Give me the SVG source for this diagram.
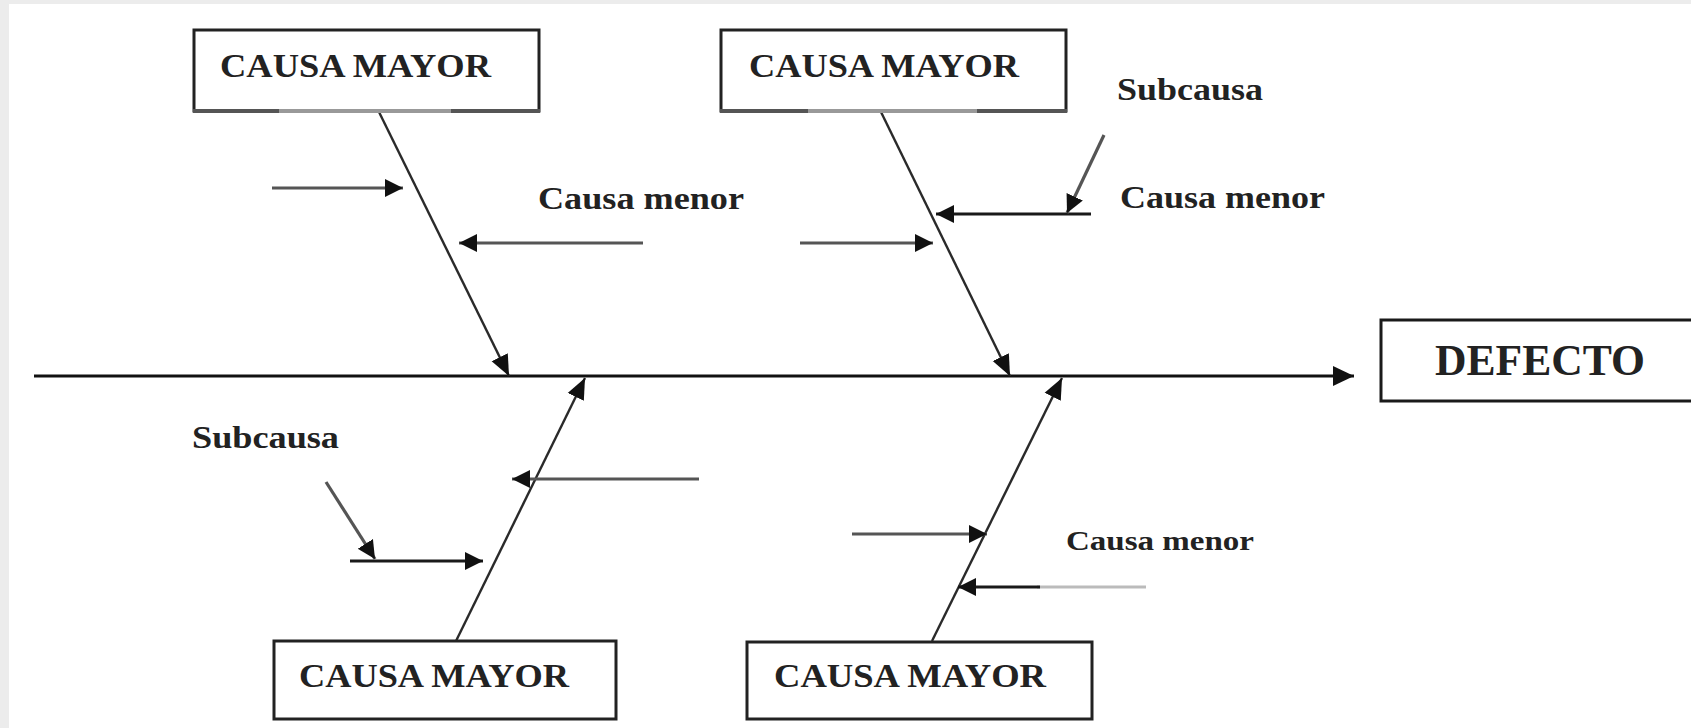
<svg xmlns="http://www.w3.org/2000/svg" width="1691" height="728" viewBox="0 0 1691 728">
<defs>
<style>
.box{fill:#fff;stroke:#222;stroke-width:3}
.lbl{font-family:"Liberation Serif","Times New Roman",serif;font-weight:bold;fill:#222}
.bone{stroke:#2a2a2a;stroke-width:2.4;fill:none}
.sub{stroke:#555;stroke-width:3.2;fill:none}
.subd{stroke:#1a1a1a;stroke-width:3.2;fill:none}
</style>
<marker id="ah" markerUnits="userSpaceOnUse" markerWidth="22" markerHeight="22" refX="18" refY="10" orient="auto"><path d="M0,1 L18,10 L0,19 z" fill="#111"/></marker>
<marker id="ahb" markerUnits="userSpaceOnUse" markerWidth="24" markerHeight="22" refX="21" refY="10" orient="auto"><path d="M0,1 L21,10 L0,19 z" fill="#111"/></marker>
<marker id="ahs" markerUnits="userSpaceOnUse" markerWidth="24" markerHeight="22" refX="21" refY="10" orient="auto"><path d="M0,0 L21,10 L0,20 z" fill="#111"/></marker>
</defs>
<rect x="0" y="0" width="1691" height="728" fill="#ececec"/>
<rect x="9" y="4" width="1682" height="724" fill="#fff"/>

<g id="connectors">
<line x1="34" y1="376" x2="1354" y2="376" stroke="#111" stroke-width="3" marker-end="url(#ahs)"/>
<line class="bone" x1="379" y1="112" x2="509" y2="376" marker-end="url(#ahb)"/>
<line class="bone" x1="881" y1="112" x2="1010" y2="376" marker-end="url(#ahb)"/>
<line class="bone" x1="456" y1="641" x2="585" y2="378" marker-end="url(#ahb)"/>
<line class="bone" x1="932" y1="641" x2="1062" y2="378" marker-end="url(#ahb)"/>
<line class="sub" x1="272" y1="188" x2="403" y2="188" marker-end="url(#ah)"/>
<line class="sub" x1="643" y1="243" x2="459" y2="243" marker-end="url(#ah)"/>
<line class="sub" x1="800" y1="243" x2="933" y2="243" marker-end="url(#ah)"/>
<line class="subd" x1="1091" y1="214" x2="936" y2="214" marker-end="url(#ah)"/>
<line class="sub" x1="1104" y1="135" x2="1067" y2="213" marker-end="url(#ah)"/>
<line class="sub" x1="699" y1="479" x2="512" y2="479" marker-end="url(#ah)"/>
<line class="subd" x1="350" y1="561" x2="483" y2="561" marker-end="url(#ah)"/>
<line class="sub" x1="326" y1="482" x2="375" y2="559" marker-end="url(#ah)"/>
<line class="sub" x1="852" y1="534" x2="987" y2="534" marker-end="url(#ah)"/>
<line x1="1146" y1="587" x2="1037" y2="587" stroke="#bbb" stroke-width="3"/>
<line class="subd" x1="1040" y1="587" x2="958" y2="587" marker-end="url(#ah)"/>
</g>

<g id="box1">
<rect class="box" x="194" y="30" width="345" height="81"/>
<line x1="193" y1="111" x2="279" y2="111" stroke="#555" stroke-width="4"/>
<line x1="279" y1="111" x2="451" y2="111" stroke="#999" stroke-width="4"/>
<line x1="451" y1="111" x2="540" y2="111" stroke="#555" stroke-width="4"/>
<text class="lbl" x="220" y="77" font-size="33" textLength="271" lengthAdjust="spacingAndGlyphs">CAUSA MAYOR</text>
</g>
<g id="box2">
<rect class="box" x="721" y="30" width="345" height="81"/>
<line x1="720" y1="111" x2="808" y2="111" stroke="#555" stroke-width="4"/>
<line x1="808" y1="111" x2="977" y2="111" stroke="#999" stroke-width="4"/>
<line x1="977" y1="111" x2="1067" y2="111" stroke="#555" stroke-width="4"/>
<text class="lbl" x="749" y="77" font-size="33" textLength="270" lengthAdjust="spacingAndGlyphs">CAUSA MAYOR</text>
</g>
<g id="box3">
<rect class="box" x="274" y="641" width="342" height="78"/>
<text class="lbl" x="299" y="687" font-size="33" textLength="270" lengthAdjust="spacingAndGlyphs">CAUSA MAYOR</text>
</g>
<g id="box4">
<rect class="box" x="747" y="642" width="345" height="77"/>
<text class="lbl" x="774" y="687" font-size="33" textLength="272" lengthAdjust="spacingAndGlyphs">CAUSA MAYOR</text>
</g>
<g id="defecto">
<rect x="1381" y="320" width="320" height="81" fill="#fff" stroke="#1a1a1a" stroke-width="3"/>
<text class="lbl" x="1435" y="375" font-size="44" textLength="210" lengthAdjust="spacingAndGlyphs" fill="#111">DEFECTO</text>
</g>
<g id="labels">
<text class="lbl" x="538" y="209" font-size="31" textLength="206" lengthAdjust="spacingAndGlyphs">Causa menor</text>
<text class="lbl" x="1120" y="208" font-size="31" textLength="205" lengthAdjust="spacingAndGlyphs">Causa menor</text>
<text class="lbl" x="1117" y="100" font-size="31" textLength="146" lengthAdjust="spacingAndGlyphs">Subcausa</text>
<text class="lbl" x="192" y="448" font-size="31" textLength="147" lengthAdjust="spacingAndGlyphs">Subcausa</text>
<text class="lbl" x="1066" y="550" font-size="28" textLength="188" lengthAdjust="spacingAndGlyphs">Causa menor</text>
</g>
</svg>
